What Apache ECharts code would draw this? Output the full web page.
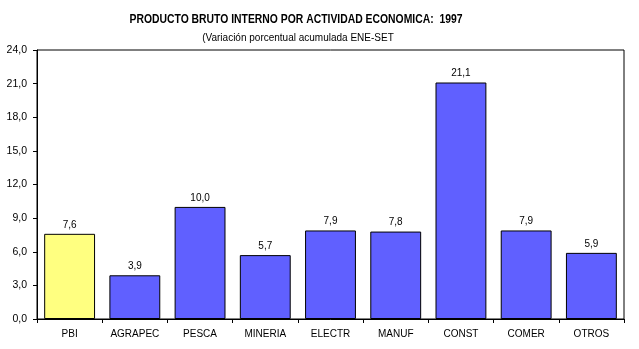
<!DOCTYPE html>
<html><head><meta charset="utf-8">
<script src="https://cdn.jsdelivr.net/npm/echarts@6/dist/echarts.min.js"></script>
<style>html,body{margin:0;padding:0;background:#fff}#c{width:639px;height:349px}</style>
</head><body><div id="c"></div>
<script>
const categories = ['PBI','AGRAPEC','PESCA','MINERIA','ELECTR','MANUF','CONST','COMER','OTROS'];
const values = [7.6, 3.9, 10.0, 5.7, 7.9, 7.8, 21.1, 7.9, 5.9];
const barColors = ['#FFFF80','#6060FF','#6060FF','#6060FF','#6060FF','#6060FF','#6060FF','#6060FF','#6060FF'];
const titleText = 'PRODUCTO BRUTO INTERNO POR ACTIVIDAD ECONOMICA:  1997';
const subtitleText = '(Variación porcentual acumulada ENE-SET';
const fmt = v => Number(v).toFixed(1).replace('.', ',');
const chart = echarts.init(document.getElementById('c'), null, {renderer:'canvas'});
chart.setOption({
  animation: false,
  backgroundColor: '#fff',
  graphic: [
    {type: 'text', x: 296, y: 20, scaleX: 0.865, originX: 0, originY: 0,
     style: {text: titleText, align: 'center', verticalAlign: 'middle', fill: '#000',
             font: 'bold 12px "Liberation Sans", Arial, sans-serif'}},
    {type: 'text', x: 298, y: 38,
     style: {text: subtitleText, align: 'center', verticalAlign: 'middle', fill: '#000',
             font: '10px "Liberation Sans", Arial, sans-serif'}}
  ],
  grid: {left: 37, right: 15, top: 50, bottom: 30, show: true, borderColor: '#000', borderWidth: 1, containLabel: false},
  xAxis: {
    type: 'category', data: categories,
    axisLine: {lineStyle: {color: '#000', width: 1}},
    axisTick: {show: true, length: 4, lineStyle: {color: '#000'}},
    axisLabel: {color: '#000', fontFamily: 'Liberation Sans, Arial', fontSize: 10, margin: 10}
  },
  yAxis: {
    type: 'value', min: 0, max: 24, interval: 3,
    axisLine: {show: true, lineStyle: {color: '#000', width: 1}},
    axisTick: {show: true, length: 4, lineStyle: {color: '#000'}},
    splitLine: {show: false},
    axisLabel: {color: '#000', fontFamily: 'Liberation Sans, Arial', fontSize: 10.5, margin: 10, formatter: v => fmt(v)}
  },
  series: [{
    type: 'bar', barWidth: '78%',
    data: values.map((v, i) => ({value: v, itemStyle: {color: barColors[i]}})),
    itemStyle: {borderColor: '#000', borderWidth: 1},
    label: {show: true, position: 'top', distance: 4, color: '#000', fontFamily: 'Liberation Sans, Arial', fontSize: 10, formatter: p => fmt(p.value)}
  }]
});
</script></body></html>
